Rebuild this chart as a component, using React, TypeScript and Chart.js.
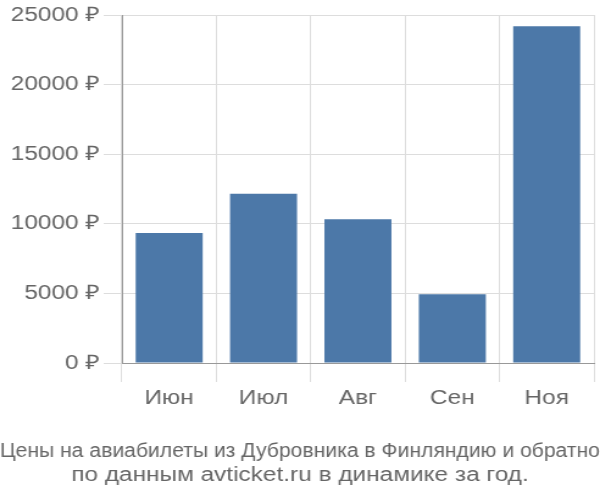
import React, { useEffect, useRef } from "react";
import { Chart, registerables } from "chart.js";

Chart.register(...registerables);

const categories = ["Июн", "Июл", "Авг", "Сен", "Ноя"];
const prices = [9340, 12150, 10330, 4930, 24200];
const yTicks = [0, 5000, 10000, 15000, 20000, 25000];
const titleLines = [
  "Цены на авиабилеты из Дубровника в Финляндию и обратно",
  "по данным avticket.ru в динамике за год.",
];

const CANVAS_W = 492;
const CANVAS_H = 500;

export default function App() {
  const ref = useRef<HTMLCanvasElement | null>(null);
  useEffect(() => {
    if (!ref.current) return;
    const chart = new Chart(ref.current, {
      type: "bar",
      data: {
        labels: categories,
        datasets: [
          {
            data: prices,
            backgroundColor: "#4c78a8",
            borderWidth: 0,
            categoryPercentage: 1,
            barPercentage: 0.71,
          },
        ],
      },
      options: {
        animation: false,
        responsive: false,
        devicePixelRatio: 1,
        layout: { padding: { top: 0, right: 0, left: 0, bottom: 13 } },
        plugins: {
          legend: { display: false },
          tooltip: { enabled: false },
          title: {
            display: true,
            position: "bottom",
            text: titleLines,
            color: "#666",
            font: { family: "Liberation Sans", size: 20, weight: "normal" },
            padding: { top: 25, bottom: 0 },
            lineHeight: 1.4,
          },
        },
        scales: {
          x: {
            grid: { color: "#dddddd", tickLength: 19, offset: true },
            border: { color: "#999", width: 1 },
            ticks: {
              color: "#666",
              font: { family: "Liberation Sans", size: 20 },
              padding: 4,
            },
          },
          y: {
            min: 0,
            max: 25000,
            afterBuildTicks: (axis: any) => {
              axis.ticks = yTicks.map((v) => ({ value: v }));
            },
            afterFit: (axis: any) => {
              axis.width = 100;
            },
            grid: { color: "#dddddd", tickLength: 15 },
            border: { color: "#999", width: 1 },
            ticks: {
              color: "#666",
              font: { family: "Liberation Sans", size: 20 },
              padding: 3,
              callback: (v: any) => `${v} ₽`,
            },
          },
          yRight: {
            type: "linear",
            position: "right",
            display: true,
            grid: { display: false, drawTicks: false },
            border: { display: false },
            ticks: { display: false },
            afterFit: (axis: any) => {
              axis.width = 5;
            },
          },
        },
      },
    });
    return () => chart.destroy();
  }, []);
  return (
    <div style={{ position: "fixed", left: 0, top: 0, width: 600, height: 500 }}>
      <canvas
        ref={ref}
        width={CANVAS_W}
        height={CANVAS_H}
        style={{ width: 600, height: 500, display: "block" }}
      />
    </div>
  );
}
